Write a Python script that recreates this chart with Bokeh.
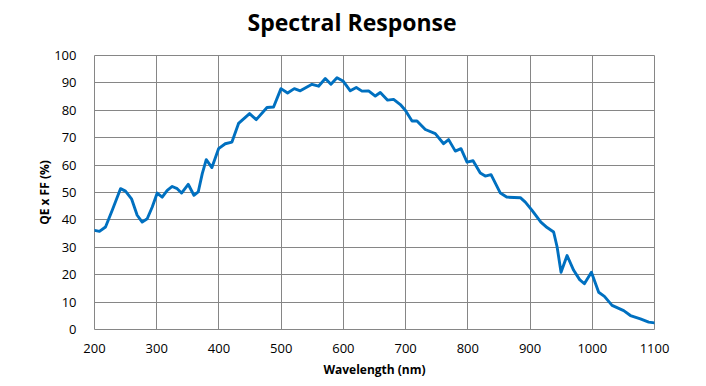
from bokeh.plotting import figure
from bokeh.models import Range1d, FixedTicker, Title
from bokeh.embed import file_html
from bokeh.resources import INLINE

wavelength = [200, 208, 217.7, 228.5, 241.8, 249.8, 259.5, 268.6, 276.7, 284.7, 292.8,
              300.8, 308.8, 316.9, 324.9, 332.9, 339.9, 350.6, 359.8, 366.7, 373.2,
              379.6, 388.7, 399.4, 410.1, 420.9, 431.5, 449.2, 460, 477.2, 487.8,
              499.7, 510.3, 521.1, 530.7, 549.5, 560.1, 570.9, 580, 589.7, 599.3,
              611.1, 620.7, 629.9, 640.5, 651.3, 659.3, 671.1, 680.7, 691.5, 699.5,
              710.3, 718.3, 731.7, 747.7, 761.1, 769.1, 779.9, 789, 798.7, 808.4,
              820, 828, 837.3, 852.3, 863, 884.4, 892.4, 903.2, 917.4, 927.4,
              937.9, 943.5, 949.8, 959.5, 970.1, 979.7, 987.3, 998.6, 1010.3, 1019.5,
              1031.8, 1050.5, 1061.3, 1077.3, 1090.7, 1100]
qe_ff = [36.2, 35.8, 37.4, 43.5, 51.4, 50.5, 47.7, 41.7, 39.2, 40.4, 44.7,
         49.8, 48.3, 50.8, 52.2, 51.4, 49.8, 53.0, 49.0, 50.2, 56.9,
         62.0, 59.1, 66.0, 67.8, 68.4, 75.2, 78.8, 76.6, 81.0, 81.2,
         87.9, 86.3, 87.9, 87.1, 89.5, 88.8, 91.6, 89.5, 91.9, 90.7,
         87.1, 88.3, 87.0, 87.1, 85.2, 86.5, 83.7, 84.0, 82.1, 80.0,
         76.1, 76.1, 73.0, 71.5, 67.8, 69.3, 65.1, 66.0, 61.1, 61.6,
         57.1, 56.0, 56.5, 49.8, 48.3, 48.1, 46.5, 43.5, 39.2, 37.2,
         35.6, 30.1, 20.9, 27.0, 21.6, 18.2, 16.7, 20.9, 13.6, 12.1,
         8.8, 6.9, 5.1, 3.9, 2.7, 2.4]
x_ticks = [200, 300, 400, 500, 600, 700, 800, 900, 1000, 1100]
y_ticks = [0, 10, 20, 30, 40, 50, 60, 70, 80, 90, 100]
title_text = "Spectral Response"

FONT = "Open Sans"
GRID = "#868686"

p = figure(width=700, height=380, output_backend="svg", toolbar_location=None,
           x_range=Range1d(200, 1100), y_range=Range1d(0, 100),
           min_border_left=94, min_border_right=46, min_border_top=55, min_border_bottom=51)

# empty spacer between the frame and the title (first 'above' item sits nearest the frame)
p.add_layout(Title(text=" ", text_font_size="14px", standoff=0), "above")
p.add_layout(Title(text=title_text, align="left", offset=153, standoff=0,
                   text_font=FONT, text_font_size="23px", text_font_style="bold",
                   text_color="black"), "above")

p.line(wavelength, qe_ff, line_color="#0070C0", line_width=2.9,
       line_join="round", line_cap="round")

for ax in (p.xaxis, p.yaxis):
    ax.axis_line_color = None
    ax.major_tick_line_color = None
    ax.minor_tick_line_color = None
    ax.major_label_text_font = FONT
    ax.major_label_text_font_size = "13px"
    ax.major_label_text_color = "black"
    ax.axis_label_text_font = FONT
    ax.axis_label_text_font_size = "12px"
    ax.axis_label_text_font_style = "bold"
    ax.axis_label_text_color = "black"

p.xaxis.ticker = FixedTicker(ticks=x_ticks)
p.yaxis.ticker = FixedTicker(ticks=y_ticks)
p.xaxis.axis_label = "Wavelength (nm)"
p.yaxis.axis_label = "QE x FF (%)"
p.xaxis.major_label_standoff = 8
p.yaxis.major_label_standoff = 12
p.xaxis.axis_label_standoff = 5
p.yaxis.axis_label_standoff = -2

p.xgrid.grid_line_color = GRID
p.ygrid.grid_line_color = GRID
p.xgrid.grid_line_width = 1
p.ygrid.grid_line_width = 1
p.outline_line_color = GRID
p.outline_line_width = 1
p.background_fill_color = "white"
p.border_fill_color = "white"

open("out.html", "w").write(file_html(p, INLINE))
